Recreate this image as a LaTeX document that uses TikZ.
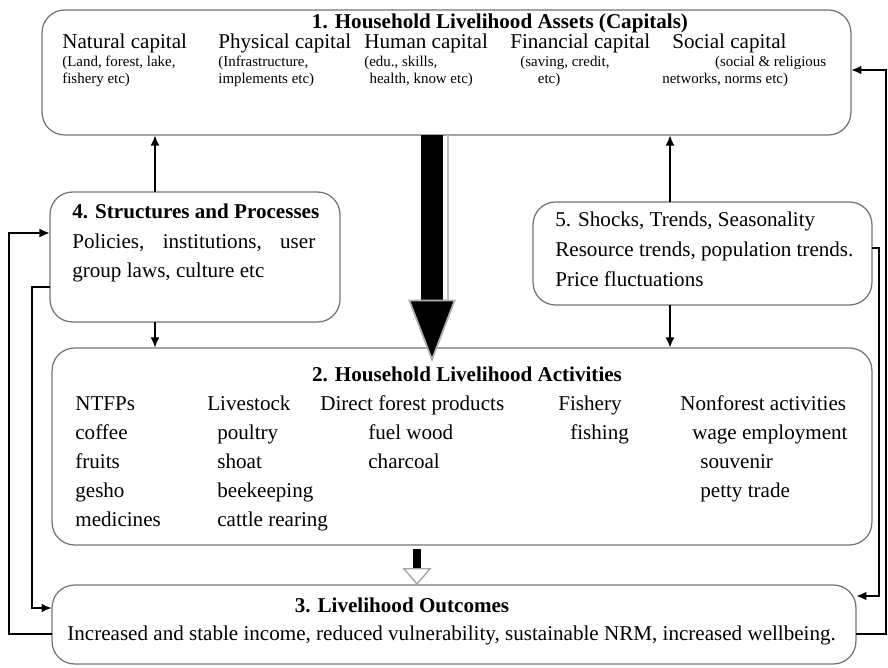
\documentclass[tikz,border=0pt]{standalone}
\usepackage{fontspec}
\setmainfont{Liberation Serif}
\usetikzlibrary{arrows.meta}

\begin{document}
\begin{tikzpicture}[
  x=0.02cm, y=-0.02cm,
  box/.style={rectangle, rounded corners=0.45cm, draw=black!55, line width=0.7pt, inner sep=0pt, outer sep=0pt},
  txt/.style={anchor=base west, inner sep=0pt, font=\fontsize{12}{14}\selectfont},
  head/.style={anchor=base, inner sep=0pt, font=\fontsize{12}{14}\selectfont\bfseries},
  sub/.style={anchor=north west, inner sep=0pt, align=left, font=\fontsize{8.5}{9.5}\selectfont},
  flow/.style={-{Latex[length=6pt,width=5pt]}, line width=1.4pt},
  fb/.style={-{Latex[length=6pt,width=5pt]}, line width=1.2pt}
]
\useasboundingbox (0,0) rectangle (888,668);

% boxes
\node[box, minimum width=16.18cm, minimum height=2.5cm] (assets) at (446.5,72.5) {};
\node[box, minimum width=5.8cm, minimum height=2.6cm] (struct) at (195,257) {};
\node[box, minimum width=6.78cm, minimum height=2.06cm] (shocks) at (702.5,253.5) {};
\node[box, minimum width=16.4cm, minimum height=3.94cm] (activ) at (462,446.5) {};
\node[box, minimum width=16.08cm, minimum height=1.58cm] (outc) at (454,624.5) {};

% 1. assets
\node[head] (assetsT) at (500,29) {1. Household Livelihood Assets (Capitals)};
\node[txt] (natural) at (62,49) {Natural capital};
\node[txt] (physical) at (218,49) {Physical capital};
\node[txt] (human) at (364,49) {Human capital};
\node[txt] (financial) at (510,49) {Financial capital};
\node[txt] (social) at (672,49) {Social capital};
\node[sub] (naturalS) at (62,56) {(Land, forest, lake,\\fishery etc)};
\node[sub] (physicalS) at (218,56) {(Infrastructure,\\implements etc)};
\node[sub] (humanS) at (364,56) {(edu., skills,\\\hspace{3pt}health, know etc)};
\node[sub] (financialS) at (520,56) {(saving, credit,\\\hspace{10pt}etc)};
\node[sub] (socialS) at (662,56) {\hspace{30pt}(social \& religious\\networks, norms etc)};

% 4. structures
\node[head, anchor=base west] (structT) at (72,219) {4. Structures and Processes};
\node[txt, anchor=north west, text width=4.86cm, align=justify, font=\fontsize{12}{16}\selectfont] (structB) at (72,234) {Policies, institutions, user group laws, culture etc};

% 5. shocks
\node[txt] (shocksT) at (555,227) {5. Shocks, Trends, Seasonality};
\node[txt] (shocksA) at (555,257) {Resource trends, population trends.};
\node[txt] (shocksB) at (555,287) {Price fluctuations};

% 2. activities
\node[head] (activT) at (467,381) {2. Household Livelihood Activities};
\node[txt] (ntfp) at (75,410) {NTFPs};
\node[txt] (coffee) at (75,439) {coffee};
\node[txt] (fruits) at (75,468) {fruits};
\node[txt] (gesho) at (75,497) {gesho};
\node[txt] (medic) at (75,526) {medicines};
\node[txt] (livest) at (207,410) {Livestock};
\node[txt] (poultry) at (217,439) {poultry};
\node[txt] (shoat) at (217,468) {shoat};
\node[txt] (beekp) at (217,497) {beekeeping};
\node[txt] (cattle) at (217,526) {cattle rearing};
\node[txt] (direct) at (320,410) {Direct forest products};
\node[txt] (fuel) at (368,439) {fuel wood};
\node[txt] (charc) at (368,468) {charcoal};
\node[txt] (fishery) at (558,410) {Fishery};
\node[txt] (fishing) at (570,439) {fishing};
\node[txt] (nonfor) at (680,410) {Nonforest activities};
\node[txt] (wage) at (692,439) {wage employment};
\node[txt] (souv) at (700,468) {souvenir};
\node[txt] (petty) at (700,497) {petty trade};

% 3. outcomes
\node[head] (outcT) at (402,612) {3. Livelihood Outcomes};
\node[txt] (outcB) at (67,640) {Increased and stable income, reduced vulnerability, sustainable NRM, increased wellbeing.};

% connectors
\coordinate (cL) at (155,0);
\coordinate (cR) at (670,0);
\coordinate (cM) at (432,0);
\coordinate (cS) at (417,0);
\draw[flow] (struct.north -| cL) -- (assets.south -| cL);
\draw[flow] (struct.south -| cL) -- (activ.north -| cL);
\draw[flow] (shocks.north -| cR) -- (assets.south -| cR);
\draw[flow] (shocks.south -| cR) -- (activ.north -| cR);

% big arrow into activities, small one into outcomes
\draw[black!25, line width=0.8pt] ([xshift=0.32cm]assets.south -| cM) -- ([xshift=0.32cm, yshift=-3.3cm]assets.south -| cM);
\draw[line width=0.44cm, -{Triangle[length=1.25cm, width=0.95cm, fill=black, color=black!30, line width=1pt]}, shorten >=-0.28cm] (assets.south -| cM) -- (activ.north -| cM);
\draw[line width=0.17cm, -{Triangle[open, length=0.34cm, width=0.58cm, color=black!35, line width=0.8pt]}, shorten <=0.08cm] (activ.south -| cS) -- (outc.north -| cS);

% feedback loops
\coordinate (oL) at (9,634);
\coordinate (oLt) at (9,233);
\coordinate (iL) at (32,287);
\coordinate (iLb) at (32,608);
\coordinate (oR) at (886,634);
\coordinate (oRt) at (886,70);
\coordinate (iR) at (879,248);
\coordinate (iRb) at (879,596);
\draw[fb] (outc.west |- oL) -- (oL) |- (struct.west |- oLt);
\draw[fb] (struct.west |- iL) -- (iL) |- (outc.west |- iLb);
\draw[fb] (outc.east |- oR) -- (oR) |- (assets.east |- oRt);
\draw[fb] (shocks.east |- iR) -- (iR) |- (outc.east |- iRb);
\end{tikzpicture}
\end{document}
